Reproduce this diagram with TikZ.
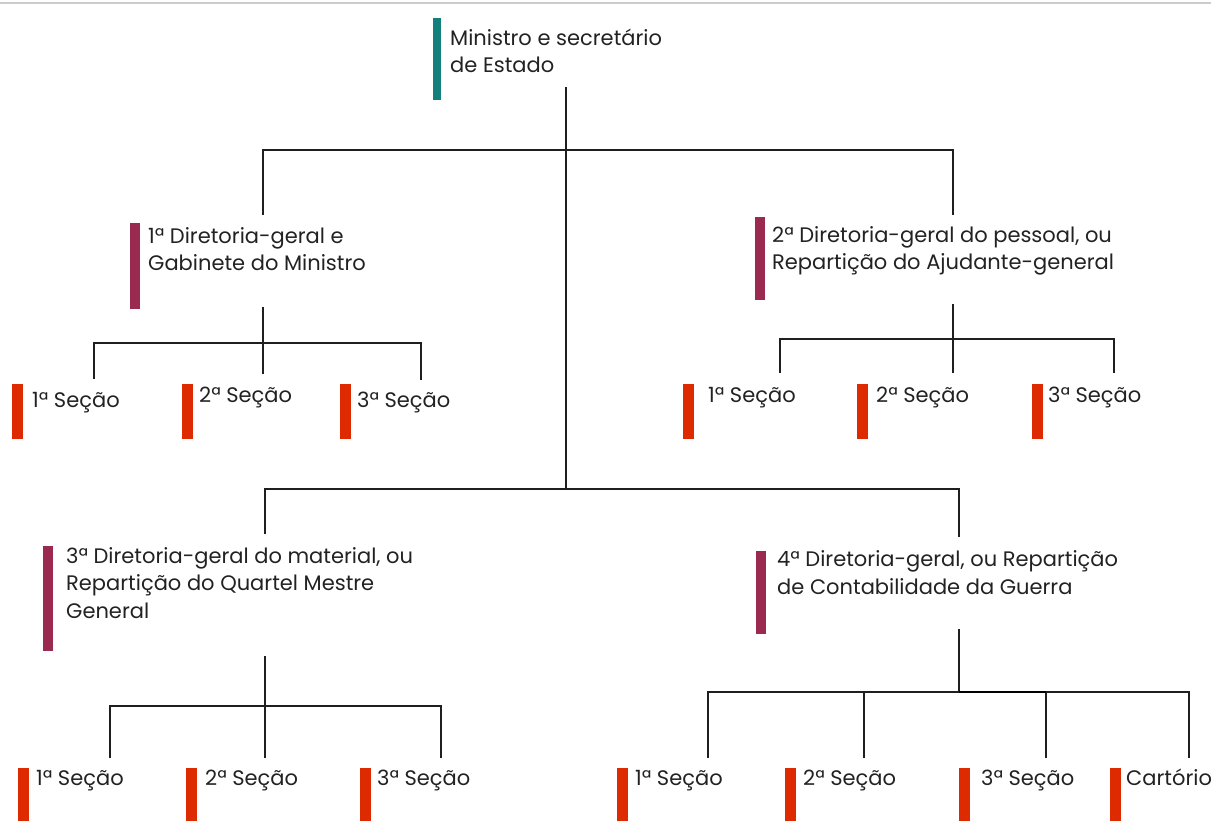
\documentclass[tikz,border=0pt]{standalone}
\usepackage{fontspec}
\setmainfont{Poppins}
\definecolor{cteal}{HTML}{13807C}
\definecolor{cplum}{HTML}{9A2A4F}
\definecolor{cred}{HTML}{DD2A00}
\definecolor{ctext}{HTML}{222222}
\tikzset{
  conn/.style={draw=black!88, line width=1.3pt},
  barbox/.style={rectangle, inner sep=0pt, draw=none},
  lbl/.style={anchor=base west, inner sep=0pt, align=left, text=ctext,
    font=\fontsize{21}{27.5}\selectfont},
}
\begin{document}
\begin{tikzpicture}[x=1pt,y=-1pt]
\useasboundingbox (0,0) rectangle (1211,821);
\draw[draw=black!20, line width=2pt] (0,3) -- (1211,3);

% top (anchor = baseline of last line)
\node[barbox, fill=cteal, minimum width=8pt, minimum height=82pt] (b0) at (437,59) {};
\node[lbl] (t0) at (450,73) {Ministro e secretário\\de Estado};

% level 1
\node[barbox, fill=cplum, minimum width=10pt, minimum height=86pt] (b1) at (135,266) {};
\node[lbl] (t1) at (148,271) {1ª Diretoria-geral e\\Gabinete do Ministro};
\node[barbox, fill=cplum, minimum width=10pt, minimum height=83pt] (b2) at (760,258.5) {};
\node[lbl] (t2) at (772,270) {2ª Diretoria-geral do pessoal, ou\\Repartição do Ajudante-general};

% level 1 sections
\node[barbox, fill=cred, minimum width=11pt, minimum height=55pt] (s11) at (17.5,411.5) {};
\node[lbl] (u11) at (32,407) {1ª Seção};
\node[barbox, fill=cred, minimum width=11pt, minimum height=55pt] (s12) at (187.5,411.5) {};
\node[lbl] (u12) at (199,402) {2ª Seção};
\node[barbox, fill=cred, minimum width=11pt, minimum height=55pt] (s13) at (345.5,411.5) {};
\node[lbl] (u13) at (357,407) {3ª Seção};

\node[barbox, fill=cred, minimum width=11pt, minimum height=55pt] (s21) at (688.5,411.5) {};
\node[lbl] (u21) at (708,402) {1ª Seção};
\node[barbox, fill=cred, minimum width=11pt, minimum height=55pt] (s22) at (862.5,411.5) {};
\node[lbl] (u22) at (876,402) {2ª Seção};
\node[barbox, fill=cred, minimum width=11pt, minimum height=55pt] (s23) at (1037.5,411.5) {};
\node[lbl] (u23) at (1048,402) {3ª Seção};

% level 2
\node[barbox, fill=cplum, minimum width=10pt, minimum height=105pt] (b3) at (47.5,598.5) {};
\node[lbl] (t3) at (66,618) {3ª Diretoria-geral do material, ou\\Repartição do Quartel Mestre\\General};
\node[barbox, fill=cplum, minimum width=10pt, minimum height=83pt] (b4) at (760.5,592.5) {};
\node[lbl] (t4) at (777,594) {4ª Diretoria-geral, ou Repartição\\de Contabilidade da Guerra};

% level 2 sections
\node[barbox, fill=cred, minimum width=11pt, minimum height=56pt] (s31) at (23,796) {};
\node[lbl] (u31) at (36,785) {1ª Seção};
\node[barbox, fill=cred, minimum width=11pt, minimum height=56pt] (s32) at (191,796) {};
\node[lbl] (u32) at (205,785) {2ª Seção};
\node[barbox, fill=cred, minimum width=11pt, minimum height=56pt] (s33) at (365,796) {};
\node[lbl] (u33) at (377,785) {3ª Seção};

\node[barbox, fill=cred, minimum width=11pt, minimum height=56pt] (s41) at (622,796) {};
\node[lbl] (u41) at (635,785) {1ª Seção};
\node[barbox, fill=cred, minimum width=11pt, minimum height=56pt] (s42) at (790,796) {};
\node[lbl] (u42) at (803,785) {2ª Seção};
\node[barbox, fill=cred, minimum width=11pt, minimum height=56pt] (s43) at (964,796) {};
\node[lbl] (u43) at (981,785) {3ª Seção};
\node[barbox, fill=cred, minimum width=11pt, minimum height=56pt] (s44) at (1115,796) {};
\node[lbl] (u44) at (1126,785) {Cartório};

% connector points
\coordinate (o0) at (566,87);
\coordinate (ja) at (566,150);
\coordinate (jb) at (566,489);
\coordinate (i1) at (263,215);
\coordinate (i2) at (953,215);
\coordinate (i3) at (265,534);
\coordinate (i4) at (959,537);

\coordinate (o1) at (263,307);
\coordinate (k1) at (263,343);
\coordinate (p11) at (94,379);
\coordinate (p12) at (263,374);
\coordinate (p13) at (421,380);

\coordinate (o2) at (953,304);
\coordinate (k2) at (953,339);
\coordinate (p21) at (780,373);
\coordinate (p22) at (953,373);
\coordinate (p23) at (1114,373);

\coordinate (o3) at (265,656);
\coordinate (k3) at (265,706);
\coordinate (p31) at (110,758);
\coordinate (p32) at (265,758);
\coordinate (p33) at (441,758);

\coordinate (o4) at (959,629);
\coordinate (k4) at (959,692);
\coordinate (p41) at (708,758);
\coordinate (p42) at (864,758);
\coordinate (p43) at (1046,758);
\coordinate (p44) at (1189,758);

% main trunk
\draw[conn] (o0) -- (jb);
\draw[conn] (i1) |- (ja) -| (i2);
\draw[conn] (i3) |- (jb) -| (i4);

% subtree 1
\draw[conn] (o1) -- (p12);
\draw[conn] (p11) |- (k1) -| (p13);
% subtree 2
\draw[conn] (o2) -- (p22);
\draw[conn] (p21) |- (k2) -| (p23);
% subtree 3
\draw[conn] (o3) -- (p32);
\draw[conn] (p31) |- (k3) -| (p33);
% subtree 4
\draw[conn] (o4) -- (k4);
\draw[conn] (p41) |- (k4) -| (p44);
\draw[conn] (p42) -- (p42 |- k4);
\draw[conn] (p43) -- (p43 |- k4);
\draw[draw=black, line width=2.4pt] (k4) -- (k4 -| p43);
\end{tikzpicture}
\end{document}
